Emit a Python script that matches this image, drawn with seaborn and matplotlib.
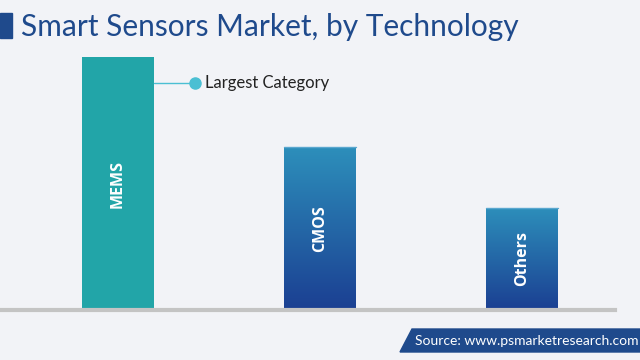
import matplotlib
matplotlib.use('Agg')
import matplotlib.pyplot as plt
import numpy as np
import pandas as pd
import seaborn as sns
from matplotlib.colors import LinearSegmentedColormap
from matplotlib.patches import Polygon, Rectangle

categories = ['MEMS', 'CMOS', 'Others']
values = [50.0, 32.2, 20.2]
largest_note = 'Largest Category'
title = 'Smart Sensors Market, by Technology'
source = 'Source: www.psmarketresearch.com'

bg = '#f2f3f7'
navy = '#1f4a8c'
teal = '#22a5a8'

sns.set_theme(style='white')
plt.rcParams['font.family'] = ['Lato', 'DejaVu Sans']

df = pd.DataFrame({'tech': categories, 'share': values})

fig = plt.figure(figsize=(6.4, 3.6), dpi=100, facecolor=bg)
ax = fig.add_axes([0, 50 / 360, 615 / 640, 270 / 360])
ax.set_facecolor(bg)
sns.barplot(data=df, x='tech', y='share', ax=ax, width=72 / 202,
            color=teal, saturation=1, linewidth=0)

# gradient fill for the non-leading bars
grad = LinearSegmentedColormap.from_list('g', ['#1b3f92', '#2d8fbb'])
for i, p in enumerate(ax.patches):
    if i == 0:
        continue
    x0, w, h = p.get_x(), p.get_width(), p.get_height()
    p.set_facecolor('none')
    img = ax.imshow(np.linspace(0, 1, 256).reshape(-1, 1), cmap=grad,
                    origin='lower', aspect='auto',
                    extent=[x0, x0 + w, 0, h], zorder=2)
    img.set_clip_path(p)
    ax.plot([x0, x0 + w], [h, h], color='#5aa7cf', lw=1, zorder=3)

ax.set_xlim(-118 / 202, (615 - 118) / 202)
ax.set_ylim(0, values[0] * 270 / 253)

for i, (c, v) in enumerate(zip(categories, values)):
    ax.text(i, v / 2, c, rotation=90, ha='center', va='center',
            color='white', fontsize=11.5, fontweight='bold',
            family=['Open Sans', 'DejaVu Sans'], zorder=4)

# largest category callout
yv = values[0] * (310 - 83) / 253
ax.plot([36 / 202, 77 / 202], [yv, yv], color='#4bbfd3', lw=1, zorder=4)
ax.plot([77 / 202], [yv], 'o', color='#4bbfd3', ms=8, zorder=5)
ax.text(87 / 202, yv, largest_note, va='center', ha='left',
        fontsize=12, color='#222222')

ax.set_xticks([])
ax.set_yticks([])
ax.set_xlabel('')
ax.set_ylabel('')
for s in ['top', 'left', 'right']:
    ax.spines[s].set_visible(False)
ax.spines['bottom'].set_color('#c4c4c4')
ax.spines['bottom'].set_linewidth(3)

# title
fig.patches.append(Rectangle((0, 1 - 38 / 360), 12 / 640, 25 / 360,
                             transform=fig.transFigure, color=navy))
fig.text(21 / 640, 1 - 27 / 360, title, fontsize=21.5, color=navy,
         va='center', ha='left')

# source box
pts = [(400 / 640, 1 - 352 / 360), (412 / 640, 1 - 329 / 360),
       (1, 1 - 329 / 360), (1, 1 - 352 / 360)]
fig.patches.append(Polygon(pts, closed=True, transform=fig.transFigure,
                           color=navy))
fig.text(415 / 640, 1 - 341 / 360, source, fontsize=10, color='white',
         va='center', ha='left')

fig.savefig('out.png', dpi=100, facecolor=bg)
